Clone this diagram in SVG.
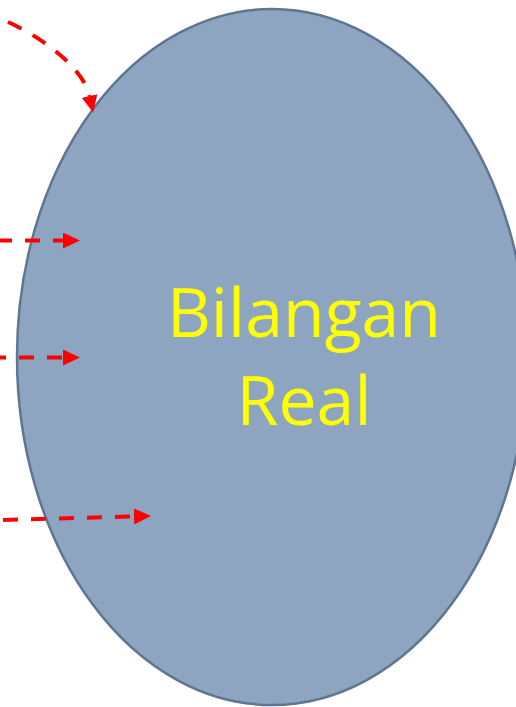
<svg xmlns="http://www.w3.org/2000/svg" width="516" height="707" viewBox="0 0 516 707">
  <style>
    .shape { fill: #8EA5C2; stroke: #5F7690; stroke-width: 2.5; }
    .label { font-family: "Open Sans", "Noto Sans", sans-serif; font-size: 68px; fill: #FFFF00; text-anchor: middle; }
    .conn { fill: none; stroke: #FF0000; stroke-width: 4; stroke-dasharray: 15 13; }
  </style>
  <defs>
    <marker id="arrow" markerUnits="userSpaceOnUse" markerWidth="17" markerHeight="16" viewBox="0 0 17 16" refX="0" refY="8" orient="auto">
      <path d="M0,0 L17,8 L0,16 Z" fill="#FF0000"/>
    </marker>
  </defs>
  <rect width="516" height="707" fill="#FFFFFF"/>
  <g id="node-bilangan-real">
    <ellipse class="shape" cx="272" cy="357" rx="255" ry="348"/>
    <text class="label" x="304" y="337">Bilangan</text>
    <text class="label" x="304" y="425">Real</text>
  </g>
  <g id="connectors">
    <path class="conn" d="M 8 22 C 38 35.5, 83 66, 89.5 96" marker-end="url(#arrow)"/>
    <path class="conn" d="M -3 240.5 L 63 240.5" marker-end="url(#arrow)"/>
    <path class="conn" d="M -9 357.5 L 63 357.5" marker-end="url(#arrow)"/>
    <path class="conn" d="M 3 520 L 134 516.5" marker-end="url(#arrow)"/>
  </g>
</svg>
